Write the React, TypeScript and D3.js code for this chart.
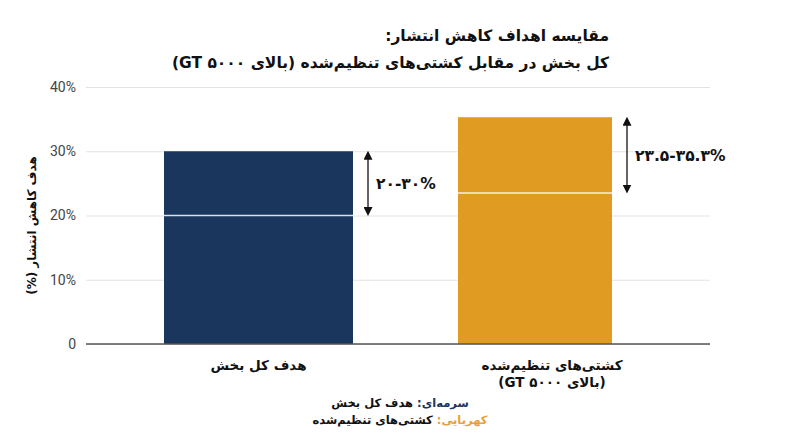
import { useEffect, useRef } from 'react';
import * as d3 from 'd3';

// data
const categories = ['هدف کل بخش', 'کشتی‌های تنظیم‌شده'];
const categorySubLabels = ['', '(بالای ۵۰۰۰ GT)'];
const lowValues = [20, 23.5];
const highValues = [30, 35.3];
const rangeLabels = ['۲۰-۳۰%', '۲۳.۵-۳۵.۳%'];
const yTicks = [0, 10, 20, 30, 40];
const titleLines = ['مقایسه اهداف کاهش انتشار:', 'کل بخش در مقابل کشتی‌های تنظیم‌شده (بالای ۵۰۰۰ GT)'];
const legendKeys = ['سرمه‌ای:', 'کهربایی:'];
const legendTexts = ['هدف کل بخش', 'کشتی‌های تنظیم‌شده'];

const COLORS = ['#1b365d', '#e09b22'];
const LEGEND_COLORS = ['#1b365d', '#e6a23a'];
const BAR_WIDTHS = [189, 154];
const LABEL_SHIFT = [0, 17];
const FA = '"DejaVu Sans", sans-serif';
const LAT = 'Roboto, "Noto Sans", sans-serif';

export default function App() {
  const svgRef = useRef<SVGSVGElement>(null);

  useEffect(() => {
    if (!svgRef.current) return;
    const svg = d3.select(svgRef.current);
    svg.selectAll('*').remove();

    const width = 800;
    const height = 447;
    const plot = { left: 86, right: 710, top: 87, bottom: 344 };

    const y = d3.scaleLinear().domain([0, 40]).range([plot.bottom, plot.top]);
    const x = d3.scalePoint<string>().domain(categories).range([258.5, 535]);

    const defs = svg.append('defs');
    defs.append('marker')
      .attr('id', 'arrowhead')
      .attr('viewBox', '0 0 10 10')
      .attr('refX', 5).attr('refY', 5)
      .attr('markerWidth', 9).attr('markerHeight', 9)
      .attr('orient', 'auto-start-reverse')
      .attr('markerUnits', 'userSpaceOnUse')
      .append('path')
      .attr('d', 'M0,0 L10,5 L0,10 z')
      .attr('fill', '#111');

    // Title
    svg.append('g')
      .selectAll('text')
      .data(titleLines)
      .enter()
      .append('text')
      .attr('x', 609)
      .attr('y', (_, i) => 41 + i * 27)
      .attr('direction', 'rtl')
      .attr('text-anchor', 'start')
      .attr('font-family', FA)
      .attr('font-weight', 'bold')
      .attr('font-size', '15.5px')
      .attr('fill', '#111')
      .text(d => d);

    // Grid + y axis
    const yAxis = svg.append('g')
      .attr('transform', `translate(${plot.left},0)`)
      .call(
        d3.axisLeft(y)
          .tickValues(yTicks)
          .tickSize(-(plot.right - plot.left))
          .tickPadding(10)
          .tickFormat(d => (+d === 0 ? '0' : `${d}%`))
      );
    yAxis.select('.domain').remove();
    yAxis.selectAll('.tick line').attr('stroke', '#e3e3e3').attr('stroke-width', 1);
    yAxis.selectAll('.tick text')
      .attr('fill', '#444')
      .attr('font-family', LAT)
      .attr('font-size', '14px');

    // Bars
    const bars = svg.append('g')
      .selectAll('g')
      .data(categories)
      .enter()
      .append('g');

    bars.append('rect')
      .attr('x', (d, i) => x(d)! - BAR_WIDTHS[i] / 2)
      .attr('width', (_, i) => BAR_WIDTHS[i])
      .attr('y', (_, i) => y(highValues[i]))
      .attr('height', (_, i) => y(0) - y(highValues[i]))
      .attr('fill', (_, i) => COLORS[i]);

    // Low-value marker line inside the bar
    bars.append('line')
      .attr('x1', (d, i) => x(d)! - BAR_WIDTHS[i] / 2)
      .attr('x2', (d, i) => x(d)! + BAR_WIDTHS[i] / 2)
      .attr('y1', (_, i) => y(lowValues[i]))
      .attr('y2', (_, i) => y(lowValues[i]))
      .attr('stroke', '#fff')
      .attr('stroke-width', 1.5)
      .attr('opacity', 0.85);

    // Range arrows
    const arrowX = (d: string, i: number) => x(d)! + BAR_WIDTHS[i] / 2 + 15;
    bars.append('line')
      .attr('x1', arrowX)
      .attr('x2', arrowX)
      .attr('y1', (_, i) => y(highValues[i]) + 4)
      .attr('y2', (_, i) => y(lowValues[i]) - 4)
      .attr('stroke', '#111')
      .attr('stroke-width', 1.3)
      .attr('marker-start', 'url(#arrowhead)')
      .attr('marker-end', 'url(#arrowhead)');

    bars.append('text')
      .attr('x', (d, i) => arrowX(d, i) + 8)
      .attr('y', (_, i) => (y(highValues[i]) + y(lowValues[i])) / 2)
      .attr('dy', '0.35em')
      .attr('direction', 'ltr')
      .attr('font-family', FA)
      .attr('font-weight', 'bold')
      .attr('font-size', '15.5px')
      .attr('fill', '#111')
      .text((_, i) => rangeLabels[i]);

    // Baseline
    svg.append('line')
      .attr('x1', plot.left)
      .attr('x2', plot.right)
      .attr('y1', y(0))
      .attr('y2', y(0))
      .attr('stroke', '#555')
      .attr('stroke-width', 1.3);

    // Category labels
    bars.append('text')
      .attr('x', (d, i) => x(d)! + LABEL_SHIFT[i])
      .attr('y', 370)
      .attr('direction', 'rtl')
      .attr('text-anchor', 'middle')
      .attr('font-family', FA)
      .attr('font-weight', 'bold')
      .attr('font-size', '13.5px')
      .attr('fill', '#111')
      .text(d => d);

    bars.append('text')
      .attr('x', (d, i) => x(d)! + LABEL_SHIFT[i])
      .attr('y', 387)
      .attr('direction', 'rtl')
      .attr('text-anchor', 'middle')
      .attr('font-family', FA)
      .attr('font-weight', 'bold')
      .attr('font-size', '13.5px')
      .attr('fill', '#111')
      .text((_, i) => categorySubLabels[i]);

    // Y axis title
    svg.append('text')
      .attr('transform', `translate(36,${(plot.top + plot.bottom) / 2 + 10}) rotate(-90)`)
      .attr('direction', 'rtl')
      .attr('text-anchor', 'middle')
      .attr('font-family', FA)
      .attr('font-weight', 'bold')
      .attr('font-size', '12px')
      .attr('fill', '#111')
      .text('هدف کاهش انتشار (%)');

    // Legend
    const legend = svg.append('g')
      .selectAll('text')
      .data(legendKeys)
      .enter()
      .append('text')
      .attr('x', width / 2)
      .attr('y', (_, i) => 407 + i * 17)
      .attr('direction', 'rtl')
      .attr('text-anchor', 'middle')
      .attr('font-family', FA)
      .attr('font-weight', 'bold')
      .attr('font-size', '11.5px');
    legend.append('tspan').attr('fill', (_, i) => LEGEND_COLORS[i]).text(d => d);
    legend.append('tspan').attr('fill', '#111').text((_, i) => ' ' + legendTexts[i]);

    svg.attr('width', width).attr('height', height);
  }, []);

  return (
    <div style={{ position: 'fixed', left: 0, top: 0, background: '#fff' }}>
      <svg ref={svgRef} width={800} height={447} style={{ display: 'block' }} />
    </div>
  );
}
